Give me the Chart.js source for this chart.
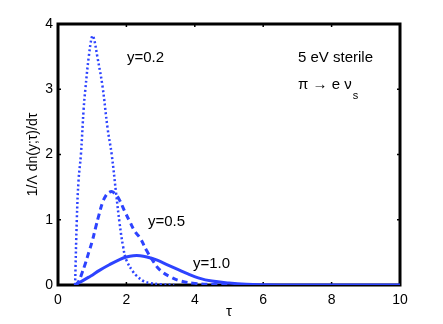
<!DOCTYPE html>
<html>
<head>
<meta charset="utf-8">
<script src="https://cdn.jsdelivr.net/npm/chart.js@4"></script>
<style>
  html, body { margin: 0; padding: 0; background: #fff; }
  #wrap { width: 443px; height: 324px; }
</style>
</head>
<body>
<div id="wrap"><canvas id="mainChart" width="443" height="324"></canvas></div>
<script>
// curve y=0.2 (dotted)
const tauY02 = [0.5, 0.55, 0.6, 0.67, 0.75, 0.8, 0.9, 1.0, 1.05, 1.15, 1.3, 1.45, 1.57, 1.7, 1.8, 1.9, 2.0, 2.2, 2.3, 2.5, 2.7, 3.0, 3.4];
const valY02 = [0, 1.0, 1.6, 2.0, 2.7, 3.0, 3.5, 3.82, 3.78, 3.5, 3.05, 2.4, 2.0, 1.4, 0.95, 0.6, 0.38, 0.2, 0.14, 0.06, 0.03, 0.01, 0];
// curve y=0.5 (dashed)
const tauY05 = [0.5, 0.6, 0.7, 0.8, 0.9, 1.0, 1.1, 1.2, 1.3, 1.4, 1.5, 1.58, 1.7, 1.8, 1.95, 2.1, 2.25, 2.4, 2.6, 2.8, 3.0, 3.3, 3.6, 4.0, 4.5, 5.0];
const valY05 = [0, 0.05, 0.18, 0.33, 0.5, 0.67, 0.88, 1.08, 1.26, 1.37, 1.42, 1.43, 1.38, 1.3, 1.13, 0.97, 0.82, 0.72, 0.52, 0.35, 0.22, 0.12, 0.06, 0.025, 0.008, 0];
// curve y=1.0 (solid)
const tauY10 = [0.5, 0.7, 0.9, 1.0, 1.2, 1.5, 1.8, 2.0, 2.2, 2.4, 2.6, 2.9, 3.2, 3.5, 3.8, 4.1, 4.5, 5.0, 5.5, 6.0, 7.0, 10.0];
const valY10 = [0, 0.06, 0.12, 0.15, 0.22, 0.31, 0.39, 0.43, 0.45, 0.45, 0.43, 0.38, 0.31, 0.24, 0.17, 0.11, 0.06, 0.03, 0.012, 0.005, 0, 0];

const xTicks = [0, 2, 4, 6, 8, 10];
const yTicks = [0, 1, 2, 3, 4];

const BLUE = '#2d43ff';
const FONT = 'Liberation Sans, Arial, sans-serif';

const pts = (xs, ys) => xs.map((x, i) => ({ x: x, y: ys[i] }));

// box + inward ticks under the curves, texts on top
const frame = {
    id: 'frame',
    beforeDatasetsDraw(chart) {
        const { ctx, chartArea: a, scales: { x, y } } = chart;
        ctx.save();
        ctx.strokeStyle = '#000';
        ctx.lineWidth = 1.5;
        xTicks.forEach(v => {
            const px = x.getPixelForValue(v);
            ctx.beginPath();
            ctx.moveTo(px, a.bottom); ctx.lineTo(px, a.bottom - 3);
            ctx.moveTo(px, a.top); ctx.lineTo(px, a.top + 3);
            ctx.stroke();
        });
        yTicks.forEach(v => {
            const py = y.getPixelForValue(v);
            ctx.beginPath();
            ctx.moveTo(a.left, py); ctx.lineTo(a.left + 3, py);
            ctx.moveTo(a.right, py); ctx.lineTo(a.right - 3, py);
            ctx.stroke();
        });
        ctx.lineWidth = 3;
        ctx.strokeRect(a.left, a.top, a.right - a.left, a.bottom - a.top);
        ctx.restore();
    },
    afterDraw(chart) {
        const { ctx, chartArea: a } = chart;
        ctx.save();
        ctx.fillStyle = '#000';
        ctx.font = '15px ' + FONT;
        ctx.textBaseline = 'middle';
        ctx.textAlign = 'left';
        ctx.fillText('y=0.2', 127, 58);
        ctx.fillText('y=0.5', 148, 222);
        ctx.fillText('y=1.0', 193, 264);
        ctx.fillText('5 eV sterile', 298, 58);
        ctx.fillText('\u03c0 \u2192 e \u03bd', 298, 85);
        const w = ctx.measureText('\u03c0 \u2192 e \u03bd').width;
        ctx.font = '11px ' + FONT;
        ctx.fillText('s', 298 + w + 1, 96);

        // y axis label
        ctx.setTransform(0, -1, 1, 0, 33, (a.top + a.bottom) / 2);
        ctx.textAlign = 'center';
        ctx.textBaseline = 'middle';
        ctx.font = '14px ' + FONT;
        ctx.fillText('1/\u039b dn(y;\u03c4)/d\u03c4', 0, 0);
        ctx.restore();
    }
};

new Chart(document.getElementById('mainChart').getContext('2d'), {
    type: 'line',
    data: {
        datasets: [
            {
                data: pts(tauY02, valY02),
                borderColor: BLUE,
                borderWidth: 2.5,
                borderDash: [2, 2.5],
                pointRadius: 0,
                tension: 0.4
            },
            {
                data: pts(tauY05, valY05),
                borderColor: BLUE,
                borderWidth: 3,
                borderDash: [6, 4],
                pointRadius: 0,
                tension: 0.4
            },
            {
                data: pts(tauY10, valY10),
                borderColor: BLUE,
                borderWidth: 3,
                pointRadius: 0,
                tension: 0.4
            }
        ]
    },
    options: {
        responsive: false,
        animation: false,
        layout: { padding: { top: 24, right: 43, left: 0, bottom: 0 } },
        plugins: { legend: { display: false }, tooltip: { enabled: false } },
        scales: {
            x: {
                type: 'linear',
                min: 0, max: 10,
                afterBuildTicks: s => { s.ticks = xTicks.map(v => ({ value: v })); },
                afterFit: s => { s.height = 39; },
                grid: { display: false, drawTicks: false },
                border: { display: false },
                ticks: { color: '#000', padding: 7, font: { family: FONT, size: 14 } },
                title: { display: true, text: '\u03c4', color: '#000', padding: { top: 0, bottom: 3 }, font: { family: FONT, size: 15 } }
            },
            y: {
                min: 0, max: 4,
                afterBuildTicks: s => { s.ticks = yTicks.map(v => ({ value: v })); },
                afterFit: s => { s.width = 58; },
                grid: { display: false, drawTicks: false },
                border: { display: false },
                ticks: { color: '#000', padding: 5, font: { family: FONT, size: 14 } }
            }
        }
    },
    plugins: [frame]
});
</script>
</body>
</html>
